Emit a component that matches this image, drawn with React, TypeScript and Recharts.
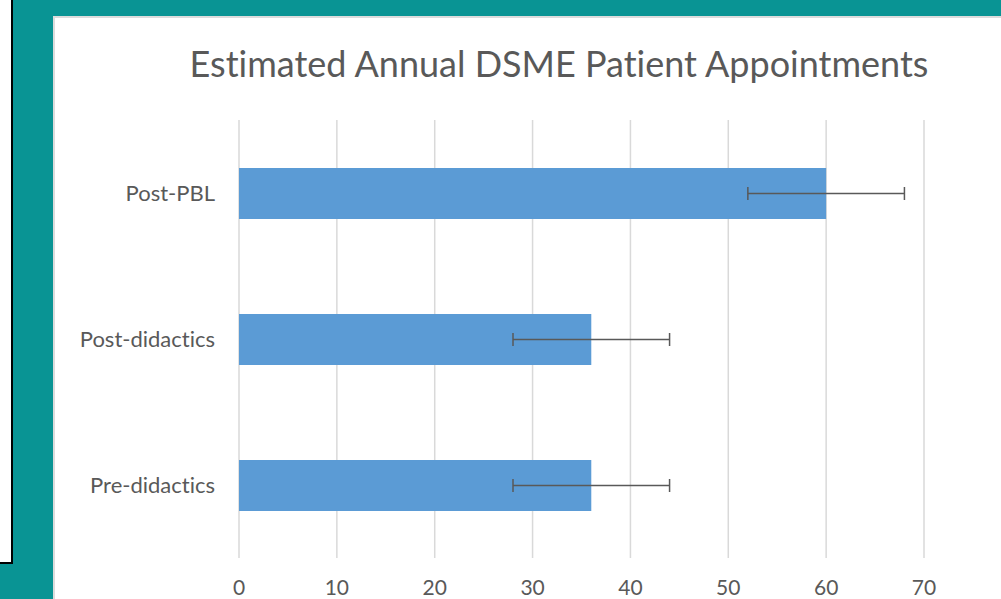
import { BarChart, Bar, XAxis, YAxis, CartesianGrid, ErrorBar } from 'recharts';

const categories = ['Post-PBL', 'Post-didactics', 'Pre-didactics'];
const appointments = [60, 36, 36];
const errorRange = [8, 8, 8];
const xTicks = [0, 10, 20, 30, 40, 50, 60, 70];

const data = categories.map((name, i) => ({
    name,
    value: appointments[i],
    err: errorRange[i],
}));

const FONT = 'Lato, "Open Sans", sans-serif';
const TEXT = '#595959';

export default function App() {
    return (
        <div
            style={{
                position: 'fixed',
                top: 0,
                left: 0,
                width: 1001,
                height: 599,
                background: '#099494',
                overflow: 'hidden',
                fontFamily: FONT,
                fontVariantLigatures: 'none',
            }}
        >
            {/* white side box */}
            <div
                style={{
                    position: 'absolute',
                    left: 0,
                    top: 0,
                    width: 11,
                    height: 562,
                    background: '#fff',
                    borderRight: '2px solid #000',
                    borderBottom: '2px solid #000',
                }}
            />
            {/* chart panel */}
            <div
                style={{
                    position: 'absolute',
                    left: 53,
                    top: 16,
                    width: 960,
                    height: 600,
                    background: '#fff',
                    border: '2px solid #dcdcdc',
                    boxSizing: 'border-box',
                }}
            />
            <svg
                width={1001}
                height={599}
                style={{ position: 'absolute', left: 0, top: 0 }}
            >
                <text
                    x={559}
                    y={77}
                    textAnchor="middle"
                    fontSize={36}
                    fill={TEXT}
                    fontFamily={FONT}
                >
                    Estimated Annual DSME Patient Appointments
                </text>
            </svg>
            <div style={{ position: 'absolute', left: 55, top: 16 }}>
                <BarChart
                    width={946}
                    height={583}
                    data={data}
                    layout="vertical"
                    margin={{ top: 104, right: 77, left: 0, bottom: 0 }}
                >
                    <CartesianGrid horizontal={false} stroke="#d9d9d9" strokeWidth={1.5} />
                    <XAxis
                        type="number"
                        domain={[0, 70]}
                        ticks={xTicks}
                        axisLine={false}
                        tickLine={false}
                        tickSize={0}
                        tickMargin={22}
                        height={41}
                        interval={0}
                        tick={{ fill: TEXT, fontSize: 21, fontFamily: FONT }}
                    />
                    <YAxis
                        type="category"
                        dataKey="name"
                        width={184}
                        axisLine={false}
                        tickLine={false}
                        tickSize={0}
                        tickMargin={24}
                        tick={{ fill: TEXT, fontSize: 22, fontFamily: FONT }}
                    />
                    <Bar dataKey="value" fill="#5b9bd5" barSize={51} isAnimationActive={false}>
                        <ErrorBar
                            dataKey="err"
                            direction="x"
                            width={6.5}
                            stroke={TEXT}
                            strokeWidth={1.5}
                        />
                    </Bar>
                </BarChart>
            </div>
        </div>
    );
}
